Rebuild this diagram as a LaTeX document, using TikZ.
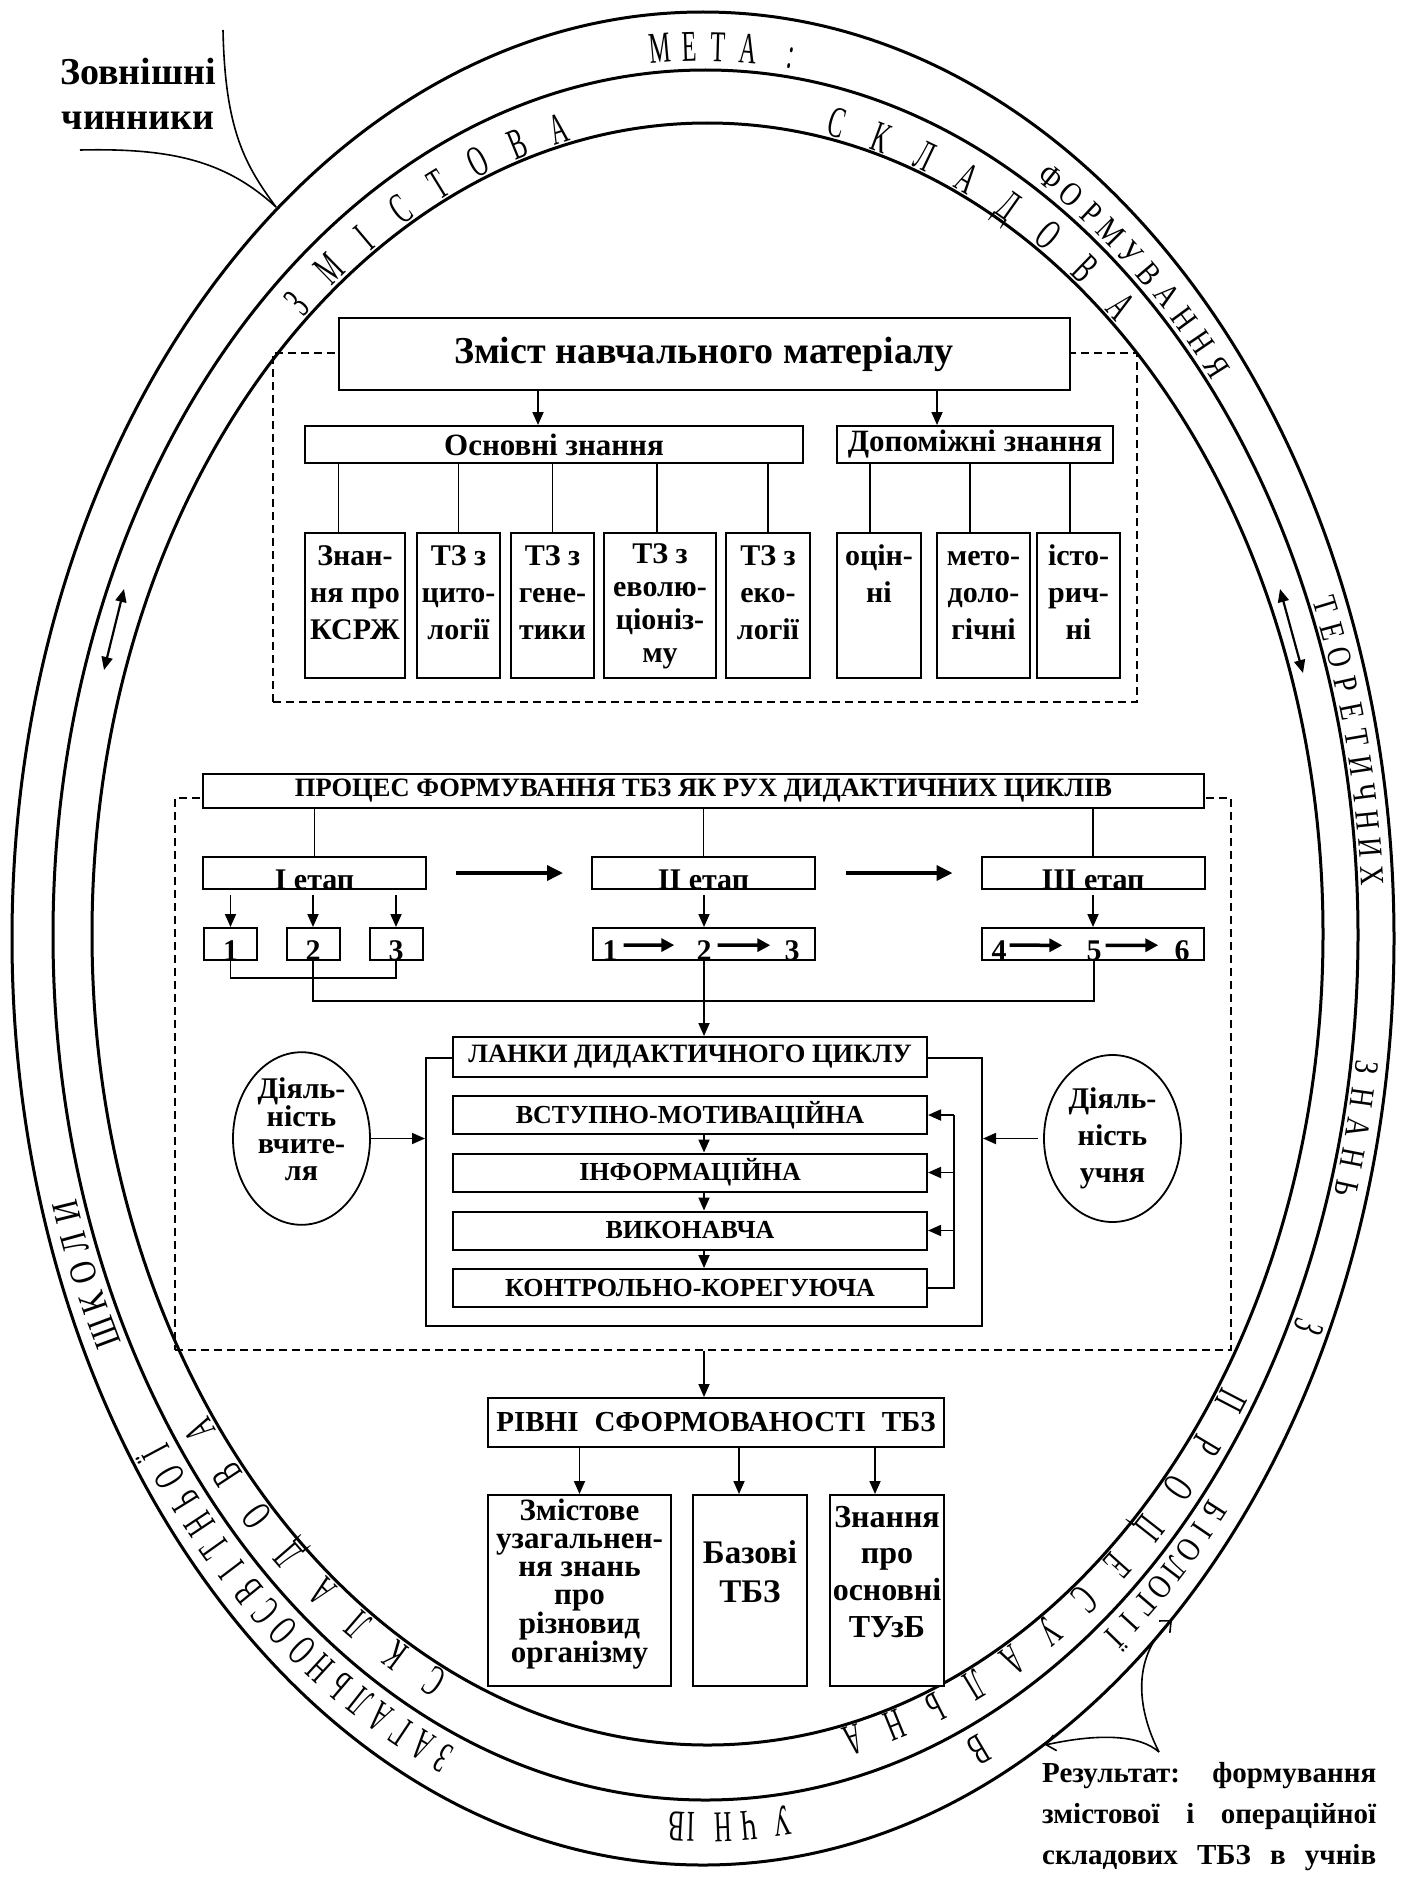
\documentclass[tikz,border=0pt]{standalone}
\usepackage{fontspec}
\setmainfont{Liberation Serif}
\newfontfamily\ringfont[FakeStretch=0.55]{Liberation Serif}
\newfontfamily\ringwide[FakeStretch=0.8]{Liberation Serif}
\usetikzlibrary{arrows.meta,shapes.geometric}

\newcommand\fsz[2]{\fontsize{#1}{#2}\selectfont\bfseries}

\tikzset{
  ring/.style={line width=3pt},
  box/.style={draw, line width=2pt, fill=white, inner sep=0pt},
  dashbox/.style={draw, line width=1.8pt, dash pattern=on 8pt off 5pt, inner sep=0pt},
  link/.style={line width=1.6pt},
  arr/.style={line width=1.8pt, -{Triangle[length=13pt,width=11pt]}},
  fatarr/.style={line width=3.5pt, -{Triangle[length=16pt,width=15pt]}},
  numarr/.style={line width=3.5pt, -{Triangle[length=13pt,width=13pt]}},
  biarr/.style={line width=2.2pt, {Triangle[length=13pt,width=11pt]}-{Triangle[length=13pt,width=11pt]}},
  openarr/.style={line width=1.6pt, -{Straight Barb[length=9pt,width=16pt]}},
  oval/.style={ellipse, draw, line width=1.8pt, minimum width=137pt, minimum height=167pt, inner sep=0pt, align=center},
  etap/.style={box, minimum width=223pt, minimum height=32pt, text height=32pt, text depth=0pt, font=\fsz{30}{32}},
  num/.style={box, minimum width=53pt, minimum height=32pt, text height=32pt, text depth=0pt, font=\fsz{30}{32}},
  digit/.style={anchor=base, inner sep=0pt, font=\fsz{30}{32}},
  stage/.style={box, minimum width=474pt, minimum height=38pt, font=\fsz{26}{28}},
  kbox/.style={box, font=\fsz{30}{37}},
  rbox/.style={box, font=\fsz{31}{28}},
  ringletter/.style={anchor=base, inner sep=0pt, font={\ringfont\fontsize{44}{44}\selectfont}},
  wideletter/.style={ringletter, font={\ringwide\fontsize{34}{34}\selectfont}},
  bigletter/.style={ringletter, font={\ringwide\fontsize{38}{38}\selectfont}},
}

% letters along an ellipse, clockwise: cx cy rx ry start step style name letters
\newcommand\ringword[9]{%
  \foreach \ch [count=\i] in {#9} {%
    \pgfmathsetmacro\ang{#5-(\i-1)*(#6)}%
    \pgfmathsetmacro\rotang{atan2(-(#4)*cos(\ang),(#3)*sin(\ang))}%
    \node[#7, rotate=\rotang] (#8-\i) at ({#1+(#3)*cos(\ang)},{#2-(#4)*sin(\ang)}) {\ch};
  }}

\begin{document}
\begin{tikzpicture}[x=1pt, y=-1pt]
    \useasboundingbox (0,0) rectangle (1406,1892);

    \draw[ring] (703,938.5) ellipse [x radius=691, y radius=926.5];
    \draw[ring] (705.5,935) ellipse [x radius=652.5, y radius=865];
    \draw[ring] (707.5,934) ellipse [x radius=615.5, y radius=811];

    % outer ring
    \ringword{704.5}{937}{658}{876}{93.8}{2.5}{ringletter}{meta}{М,Е,Т,А}
    \ringword{704.5}{937}{658}{876}{82.6}{0}{ringletter}{colon}{:}
    \ringword{704.5}{937}{658}{876}{59}{2.1}{wideletter}{form}{Ф,О,Р,М,У,В,А,Н,Н,Я}
    \ringword{704.5}{937}{658}{876}{22}{1.8}{wideletter}{teor}{Т,Е,О,Р,Е,Т,И,Ч,Н,И,Х}
    \ringword{704.5}{937}{658}{876}{-8.5}{2}{wideletter}{znan}{З,Н,А,Н,Ь}
    \ringword{704.5}{937}{658}{876}{-26.1}{0}{ringletter}{z}{З}
    \ringword{704.5}{937}{658}{876}{-40.4}{1.71}{wideletter}{bio}{Б,І,О,Л,О,Г,І,Ї}
    \ringword{704.5}{937}{658}{876}{-66.1}{0}{ringletter}{v}{В}
    \foreach \ch/\ang [count=\i] in {У/-83.4, Ч/-86.2, Н/-88.4, І/-91.1, В/-92.4} {
      \pgfmathsetmacro\rotang{atan2(-876*cos(\ang),658*sin(\ang))}
      \node[ringletter, rotate=\rotang] (uchn-\i) at ({704.5+658*cos(\ang)},{937-876*sin(\ang)}) {\ch};
    }
    \ringword{704.5}{937}{658}{876}{-112.7}{1.99}{ringletter}{zag}{З,А,Г,А,Л,Ь,Н,О,О,С,В,І,Т,Н,Ь,О,Ї}
    \ringword{704.5}{937}{658}{876}{-153.5}{2.1}{bigletter}{shk}{Ш,К,О,Л,И}

    % inner ring
    \ringword{707.5}{934}{619}{814}{130.3}{3.83}{ringletter}{zmst}{З,М,І,С,Т,О,В,А}
    \ringword{707.5}{934}{619}{814}{78.3}{4.13}{ringletter}{skl}{С,К,Л,А,Д,О,В,А}
    \ringword{707.5}{934}{619}{814}{-34.4}{3.85}{ringletter}{prc}{П,Р,О,Ц,Е,С,У,А,Л,Ь,Н,А}
    \ringword{707.5}{934}{619}{814}{-115.4}{3.96}{ringletter}{skl2}{С,К,Л,А,Д,О,В,А}

    \coordinate (la) at (124,589);
    \coordinate (lb) at (104,670);
    \draw[biarr] (la) -- (lb);
    \coordinate (ra) at (1280,589);
    \coordinate (rb) at (1303,673);
    \draw[biarr] (ra) -- (rb);

    \node[anchor=north, inner sep=0pt, align=center, font=\fsz{38}{45}] (zovn) at (138,58) {Зовнішні\\чинники};
    \coordinate (za) at (223,30);
    \coordinate (zb) at (80,150);
    \coordinate (zt) at (276,207);
    \draw[link] (za) .. controls (225,130) and (245,165) .. (zt);
    \draw[link] (zb) .. controls (170,148) and (225,160) .. (zt);

    % zmist
    \node[dashbox, minimum width=864pt, minimum height=349pt] (dtop) at (705,527.5) {};
    \node[box, minimum width=731pt, minimum height=72pt, font=\fsz{38}{40}] (zmist) at (704,354) {Зміст навчального матеріалу};
    \node[box, minimum width=498pt, minimum height=37pt, font=\fsz{31}{34}] (osn) at (554,444.5) {Основні знання};
    \node[box, minimum width=276pt, minimum height=37pt, font=\fsz{31}{34}] (dop) at (975,444.5) {Допоміжні знання};
    \draw[arr] ([xshift=-16pt]osn.north |- zmist.south) -- ([xshift=-16pt]osn.north);
    \draw[arr] ([xshift=-38pt]dop.north |- zmist.south) -- ([xshift=-38pt]dop.north);

    \node[kbox] (k1) at (355,605.5) {\parbox[c][145pt][t]{100pt}{\centering\rule{0pt}{32pt}Знан-\\ня про\\КСРЖ}};
    \node[kbox] (k2) at (458.5,605.5) {\parbox[c][145pt][t]{83pt}{\centering\rule{0pt}{32pt}ТЗ з\\цито-\\логії}};
    \node[kbox] (k3) at (552.5,605.5) {\parbox[c][145pt][t]{83pt}{\centering\rule{0pt}{32pt}ТЗ з\\гене-\\тики}};
    \node[kbox] (k4) at (660,605.5) {\parbox[c][145pt][t]{112pt}{\centering\fontsize{30}{33}\selectfont\rule{0pt}{30pt}ТЗ з\\еволю-\\ціоніз-\\му}};
    \node[kbox] (k5) at (768,605.5) {\parbox[c][145pt][t]{84pt}{\centering\rule{0pt}{32pt}ТЗ з\\еко-\\логії}};
    \node[kbox] (k6) at (879,605.5) {\parbox[c][145pt][t]{84pt}{\centering\rule{0pt}{32pt}оцін-\\ні}};
    \node[kbox] (k7) at (983.5,605.5) {\parbox[c][145pt][t]{93pt}{\centering\rule{0pt}{32pt}мето-\\доло-\\гічні}};
    \node[kbox] (k8) at (1078.5,605.5) {\parbox[c][145pt][t]{83pt}{\centering\rule{0pt}{32pt}істо-\\рич-\\ні}};
    \draw[link] ([xshift=-16.5pt]k1.north) -- ([xshift=-16.5pt]k1.north |- osn.south);
    \draw[link] (k2.north) -- (k2.north |- osn.south);
    \draw[link] (k3.north) -- (k3.north |- osn.south);
    \draw[link] ([xshift=-3pt]k4.north) -- ([xshift=-3pt]k4.north |- osn.south);
    \draw[link] (k5.north) -- (k5.north |- osn.south);
    \draw[link] ([xshift=-9pt]k6.north) -- ([xshift=-9pt]k6.north |- dop.south);
    \draw[link] ([xshift=-13.5pt]k7.north) -- ([xshift=-13.5pt]k7.north |- dop.south);
    \draw[link] ([xshift=-8.5pt]k8.north) -- ([xshift=-8.5pt]k8.north |- dop.south);

    % process
    \node[dashbox, minimum width=1056pt, minimum height=552pt] (dproc) at (703,1074) {};
    \node[box, minimum width=1001pt, minimum height=34pt, font=\fsz{26.5}{28}] (proc) at (703.5,791) {ПРОЦЕС ФОРМУВАННЯ ТБЗ ЯК РУХ ДИДАКТИЧНИХ ЦИКЛІВ};

    \node[etap] (et1) at (314.5,873) {І етап};
    \node[etap] (et2) at (703.5,873) {ІІ етап};
    \node[etap] (et3) at (1093,873) {ІІІ етап};
    \draw[link] (et1.north |- proc.south) -- (et1.north);
    \draw[link] (et2.north |- proc.south) -- (et2.north);
    \draw[link] (et3.north |- proc.south) -- (et3.north);
    \draw[fatarr] ([xshift=29pt]et1.east) -- ([xshift=-28pt]et2.west);
    \draw[fatarr] ([xshift=30pt]et2.east) -- ([xshift=-28pt]et3.west);

    \node[num] (n1) at (230.5,944) {1};
    \node[num] (n2) at (313,944) {2};
    \node[num] (n3) at (396,944) {3};
    \node[box, minimum width=222pt, minimum height=32pt] (n4) at (704,944) {};
    \node[box, minimum width=222pt, minimum height=32pt] (n5) at (1093,944) {};
    \node[digit] (d1) at (610,960) {1};
    \node[digit] (d2) at (704,960) {2};
    \node[digit] (d3) at (792,960) {3};
    \node[digit] (d4) at (999,960) {4};
    \node[digit] (d5) at (1094,960) {5};
    \node[digit] (d6) at (1182,960) {6};
    \draw[numarr] ([shift={(6pt,5pt)}]d1.east) -- ([shift={(-22pt,5pt)}]d2.west);
    \draw[numarr] ([shift={(6pt,5pt)}]d2.east) -- ([shift={(-14pt,5pt)}]d3.west);
    \draw[numarr] ([shift={(3pt,5pt)}]d4.east) -- ([shift={(-24pt,5pt)}]d5.west);
    \draw[numarr] ([shift={(4pt,5pt)}]d5.east) -- ([shift={(-16pt,5pt)}]d6.west);

    \draw[arr] ([yshift=-5pt]et1.south -| n1.north) -- (n1.north);
    \draw[arr] ([yshift=-5pt]et1.south -| n2.north) -- (n2.north);
    \draw[arr] ([yshift=-5pt]et1.south -| n3.north) -- (n3.north);
    \draw[arr] ([yshift=-5pt]et2.south -| n4.north) -- (n4.north);
    \draw[arr] ([yshift=-5pt]et3.south -| n5.north) -- (n5.north);
    \draw[link] (n1.south) -- ++(0,17) -| (n3.south);
    \draw[link] (n2.south) -- ++(0,40) -| ([xshift=1pt]n5.south);

    % didactic cycle
    \node[box, minimum width=556pt, minimum height=268pt] (frame) at (704,1192) {};
    \node[box, minimum width=474pt, minimum height=40pt, font=\fsz{26.5}{28}] (lanki) at (690,1057) {ЛАНКИ ДИДАКТИЧНОГО ЦИКЛУ};
    \draw[arr] (n4.south) -- (n4.south |- lanki.north);
    \node[stage] (s1) at (690,1115) {ВСТУПНО-МОТИВАЦІЙНА};
    \node[stage] (s2) at (690,1172.5) {ІНФОРМАЦІЙНА};
    \node[stage] (s3) at (690,1230.5) {ВИКОНАВЧА};
    \node[stage] (s4) at (690,1288) {КОНТРОЛЬНО-КОРЕГУЮЧА};
    \draw[arr] ([xshift=14pt]s1.south) -- ([xshift=14pt]s2.north);
    \draw[arr] ([xshift=14pt]s2.south) -- ([xshift=14pt]s3.north);
    \draw[arr] ([xshift=14pt]s3.south) -- ([xshift=14pt]s4.north);
    \draw[link] (s4.east) -| ([xshift=26pt]s1.east);
    \draw[arr] ([xshift=26pt]s1.east) -- (s1.east);
    \draw[arr] ([xshift=26pt]s2.east) -- (s2.east);
    \draw[arr] ([xshift=26pt]s3.east) -- (s3.east);

    \node[oval, font=\fsz{30}{27}] (teach) at (301.5,1138.5) {Діяль-\\ність\\вчите-\\ля\\[-8pt]};
    \node[oval, font=\fsz{30}{37}] (pupil) at (1112.5,1138.5) {Діяль-\\ність\\учня};
    \draw[arr] (teach.east) -- (teach.east -| frame.west);
    \draw[arr] ([xshift=-5pt]pupil.west) -- (pupil.west -| frame.east);

    % levels
    \node[box, minimum width=456pt, minimum height=49pt, font=\fsz{29}{31}] (rivni) at (716,1422.5) {РІВНІ\hspace{0.55em}СФОРМОВАНОСТІ\hspace{0.55em}ТБЗ};
    \draw[arr] (dproc.south -| n4.south) -- (rivni.north -| n4.south);
    \node[rbox] (r1) at (579.5,1590.5) {\parbox[c][191pt][t]{183pt}{\centering\rule{0pt}{25pt}Змістове\\узагальнен-\\ня знань\\про\\різновид\\організму}};
    \node[rbox] (r2) at (750,1590.5) {\parbox[c][191pt][t]{114pt}{\centering\fontsize{33}{39}\selectfont\rule{0pt}{68pt}Базові\\ТБЗ}};
    \node[rbox] (r3) at (887,1590.5) {\parbox[c][191pt][t]{114pt}{\centering\fontsize{32}{36.7}\selectfont\rule{0pt}{32pt}Знання\\про\\основні\\ТУзБ}};
    \draw[arr] (r1.north |- rivni.south) -- (r1.north);
    \draw[arr] ([xshift=-11pt]r2.north |- rivni.south) -- ([xshift=-11pt]r2.north);
    \draw[arr] ([xshift=-12pt]r3.north |- rivni.south) -- ([xshift=-12pt]r3.north);

    % result
    \node[anchor=north west, inner sep=0pt, align=left, font=\fsz{29}{41}] (result) at (1042,1762)
      {\makebox[334pt][s]{Результат: формування}\\\makebox[334pt][s]{змістової і операційної}\\\makebox[334pt][s]{складових ТБЗ в учнів}};
    \coordinate (rm) at (1159,1752);
    \coordinate (rt1) at (1172,1620);
    \coordinate (rt2) at (1045,1745);
    \draw[openarr] (rm) .. controls (1140,1715) and (1128,1660) .. (rt1);
    \draw[openarr] (rm) .. controls (1140,1735) and (1100,1733) .. (rt2);

\end{tikzpicture}
\end{document}
